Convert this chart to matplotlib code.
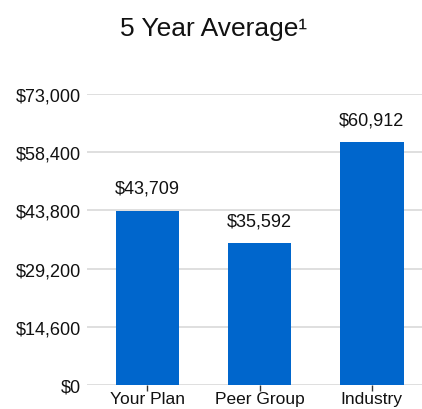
import matplotlib
matplotlib.use("Agg")
import matplotlib.pyplot as plt
from matplotlib.ticker import FuncFormatter

categories = ["Your Plan", "Peer Group", "Industry"]
values = [43709, 35592, 60912]
yticks = [0, 14600, 29200, 43800, 58400, 73000]

plt.rcParams["font.family"] = ["Liberation Sans", "DejaVu Sans"]

fig = plt.figure(figsize=(4.22, 4.10), dpi=100)
ax = fig.add_axes([0.206, 0.0585, 0.794, 0.7095])

x = range(len(categories))
ax.bar(x, values, width=0.57, color="#0066cc", zorder=3)
for xi, v in zip(x, values):
    ax.text(xi, v + 4500, f"${v:,}", ha="center", va="baseline", fontsize=13, color="#111111")

ax.set_xlim(-0.54, 2.45)
ax.set_ylim(0, 73000)
ax.set_yticks(yticks)
ax.yaxis.set_major_formatter(FuncFormatter(lambda v, p: f"${v:,.0f}"))
ax.grid(axis="y", color="#d9d9d9", linewidth=1.2, zorder=0)
ax.set_xticks(list(x))
ax.set_xticklabels(categories)
ax.tick_params(axis="y", length=0, labelsize=13, pad=4, colors="#111111")
ax.tick_params(axis="x", length=4, width=1, color="#333333", labelsize=12.5, pad=0, labelcolor="#111111")
for s in ax.spines.values():
    s.set_visible(False)

fig.text(0.505, 0.93, "5 Year Average\u00b9", ha="center", va="center", fontsize=19,
         family=["Liberation Sans Narrow", "Liberation Sans", "DejaVu Sans"], color="#111111")

fig.savefig("out.png", dpi=100)
